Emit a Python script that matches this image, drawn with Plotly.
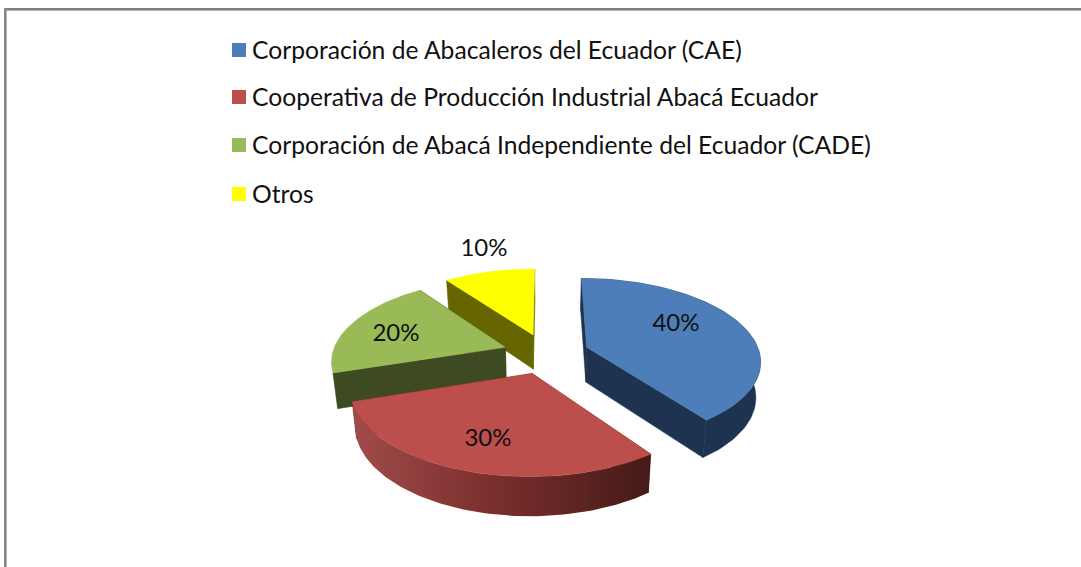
import numpy as np
import plotly.graph_objects as go

# Data
categories = ["Corporación de Abacaleros del Ecuador (CAE)",
              "Cooperativa de Producción Industrial Abacá Ecuador",
              "Corporación de Abacá Independiente del Ecuador (CADE)",
              "Otros"]
values = [40, 30, 20, 10]
labels = ["40%", "30%", "20%", "10%"]
colors_top = ["#4e7eba", "#bc4e4b", "#9aba58", "#ffff00"]
colors_side = ["#1e3350", "#5c2220", "#3e4a22", "#666600"]
label_x = [676, 488, 396, 484]
label_y = [325, 440, 335, 250]
legend_key_y = [50, 97, 145, 194]
legend_text_y = [53, 100, 148, 197]

# 3-D view used to project the pie onto the page
CX, CY, RX, RY = 546.0, 353.5, 173.0, 81.0
EXPLODE, PERSP, DEPTH = 0.25, 0.15, 35.0
FONT = "Lato"


def project(X, Y, low=False):
    w = 1.0 / (1.0 + PERSP * np.asarray(Y))
    sx = CX + np.asarray(X) * RX * w * (0.978 if low else 1.0)
    sy = CY - np.asarray(Y) * RY * w + (DEPTH * w ** 0.6 if low else 0.0)
    return sx, sy


def poly(xs, ys, color, **kw):
    return go.Scatter(x=np.append(xs, xs[0]), y=np.append(ys, ys[0]), mode="lines",
                      fill="toself", fillcolor=color, line=dict(width=0.5, color=color),
                      hoverinfo="skip", showlegend=False, **kw)


fig = go.Figure()
total = sum(values)
starts = np.cumsum([0] + values[:-1]) / total * 2 * np.pi
ends = np.cumsum(values) / total * 2 * np.pi


def slice_geom(i):
    mid = (starts[i] + ends[i]) / 2
    ox, oy = EXPLODE * np.sin(mid), EXPLODE * np.cos(mid)
    t = np.linspace(starts[i], ends[i], 90)
    return ox, oy, ox + np.sin(t), oy + np.cos(t)


for i in [3, 2, 0, 1]:  # back to front
    ox, oy, ax, ay = slice_geom(i)
    top = project(ax, ay)
    low = project(ax, ay, True)
    atop = project(ox, oy)
    alow = project(ox, oy, True)
    # radial walls
    for k in (0, -1):
        xs = np.array([atop[0], top[0][k], low[0][k], alow[0]])
        ys = np.array([atop[1], top[1][k], low[1][k], alow[1]])
        fig.add_trace(poly(xs, ys, colors_side[i]))
    # rim
    xs = np.concatenate([top[0], low[0][::-1]])
    ys = np.concatenate([top[1], low[1][::-1]])
    if i == 1:
        fig.add_trace(go.Scatter(
            x=np.append(xs, xs[0]), y=np.append(ys, ys[0]), mode="lines", fill="toself",
            fillgradient=dict(type="horizontal",
                              colorscale=[[0, "#a04c4a"], [0.45, "#7c302e"], [1, "#451a18"]]),
            line=dict(width=0), hoverinfo="skip", showlegend=False))
    elif i == 0:
        fig.add_trace(poly(xs, ys, colors_side[i]))
    # top face
    xs = np.concatenate([[atop[0]], top[0]])
    ys = np.concatenate([[atop[1]], top[1]])
    fig.add_trace(poly(xs, ys, colors_top[i]))

# Legend keys and entries
fig.add_trace(go.Scatter(x=[239] * 4, y=legend_key_y, mode="markers", hoverinfo="skip", showlegend=False,
                         marker=dict(symbol="square", size=14, color=colors_top, line=dict(width=0))))
fig.add_trace(go.Scatter(x=[252] * 4, y=legend_text_y, mode="text", text=categories, hoverinfo="skip",
                         showlegend=False, textposition="middle right",
                         textfont=dict(family=FONT, size=24.65, color="#111111")))

# Percentage labels
fig.add_trace(go.Scatter(x=label_x, y=label_y, mode="text", text=labels, showlegend=False,
                         hoverinfo="skip", textfont=dict(family=FONT, size=24, color="#111111")))

fig.update_layout(
    width=1081, height=567, margin=dict(l=0, r=0, t=0, b=0),
    paper_bgcolor="white", plot_bgcolor="white", showlegend=False,
    xaxis=dict(range=[0, 1081], visible=False, fixedrange=True),
    yaxis=dict(range=[567, 0], visible=False, fixedrange=True),
    shapes=[
        dict(type="line", xref="x", yref="y", x0=4, x1=1081, y0=9, y1=9, line=dict(color="#808080", width=2)),
        dict(type="line", xref="x", yref="y", x0=6, x1=1081, y0=10.5, y1=10.5, line=dict(color="#b4b4b4", width=1)),
        dict(type="line", xref="x", yref="y", x0=5, x1=5, y0=8, y1=567, line=dict(color="#858585", width=2)),
        dict(type="line", xref="x", yref="y", x0=6.5, x1=6.5, y0=10, y1=567, line=dict(color="#b4b4b4", width=1)),
    ],
)
fig.write_html("out.html", config={"displayModeBar": False},
               post_script="document.body.style.margin='0';document.documentElement.style.overflow='hidden';")
